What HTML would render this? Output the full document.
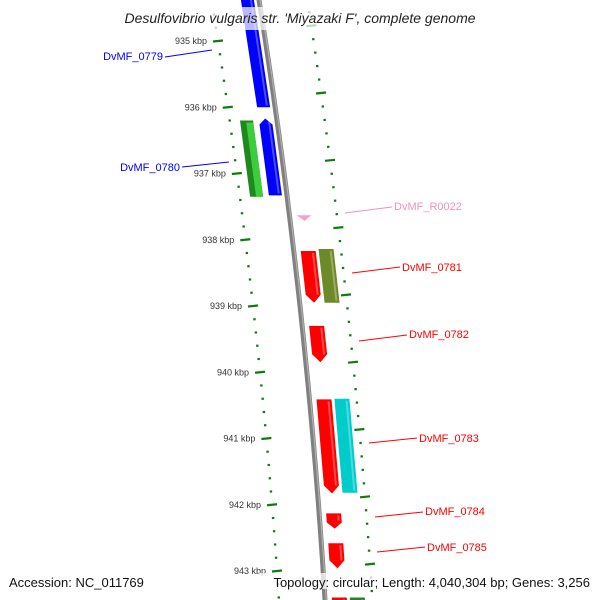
<!DOCTYPE html>
<html><head><meta charset="utf-8"><style>
html,body{margin:0;padding:0;background:#fff;}
svg{display:block;font-family:"Liberation Sans","DejaVu Sans",sans-serif;}
</style></head><body>
<svg id="map" width="600" height="600" viewBox="0 0 600 600" xmlns="http://www.w3.org/2000/svg">
<g id="ticks"></g>
<g id="features"></g>
<g id="labels"></g>
<rect x="100" y="7" width="400" height="23" fill="#fff" opacity="0.72"/>
<text x="300" y="23" text-anchor="middle" font-size="14" font-style="italic" fill="#222">Desulfovibrio vulgaris str. 'Miyazaki F', complete genome</text>
<rect x="6" y="573" width="140" height="16" fill="#fff" opacity="0.8"/>
<text x="9" y="587" font-size="13" fill="#111">Accession: NC_011769</text>
<rect x="259" y="573" width="333" height="16" fill="#fff" opacity="0.75"/>
<text x="590" y="587" text-anchor="end" font-size="13" fill="#111">Topology: circular; Length: 4,040,304 bp; Genes: 3,256</text>
</svg>
<script>
const kbpLabels = [935, 936, 937, 938, 939, 940, 941, 942, 943];
const featureNames = ["DvMF_0779","DvMF_0780_a","DvMF_0780_b","DvMF_0780","DvMF_R0022","DvMF_0781","DvMF_0781_b","DvMF_0782","DvMF_0783","DvMF_0783_b","DvMF_0784","DvMF_0785","next_a","next_b"];
const featureStartKbp = [934.3, 936.2, 936.23, 936.17, 937.63, 938.17, 938.14, 939.3, 940.41, 940.4, 942.13, 942.58, 943.4, 943.4];
const featureEndKbp = [936.0, 937.35, 937.35, 937.33, 937.7, 938.95, 938.95, 939.85, 941.83, 941.82, 942.36, 942.96, 943.7, 943.7];
const featureLane = [-1, -2, -2.4, -1, 1, 1, 2, 1, 1, 2, 1, 1, 1, 2];
const featureDir = [0, 0, 0, -1, 1, 1, 0, 1, 1, 0, 1, 1, 0, 0];
const featureColor = ["#0000ff","#1e8a1e","#3ccc3c","#0000ff","#f4a0c8","#ff0000","#6e8a28","#ff0000","#ff0000","#00cccc","#ff0000","#ff0000","#ff0000","#1e8a1e"];
const labelText = ["DvMF_0779","DvMF_0780","DvMF_R0022","DvMF_0781","DvMF_0782","DvMF_0783","DvMF_0784","DvMF_0785"];
const labelColor = ["#0000ff","#0000ff","#f490c0","#ff0000","#ff0000","#ff0000","#ff0000","#ff0000"];

const NS='http://www.w3.org/2000/svg';
// position mapping: kbp -> y (left ruler reference)
function yOf(k){ return 41 + (k-935)*66.25; }
function lag(y,p){ // quadratic through 3 points
  const [a,b,c]=p;
  return a[1]*(y-b[0])*(y-c[0])/((a[0]-b[0])*(a[0]-c[0]))
       + b[1]*(y-a[0])*(y-c[0])/((b[0]-a[0])*(b[0]-c[0]))
       + c[1]*(y-a[0])*(y-b[0])/((c[0]-a[0])*(c[0]-b[0]));
}
const bb = y => lag(y,[[0,259],[220,290],[600,325]]);
const leftR = y => lag(y,[[41,218],[306,253],[571,277]]);
const rightR = y => lag(y,[[93,321],[362,353],[564,370]]);
function mk(tag,attrs,parent){const e=document.createElementNS(NS,tag);for(const k in attrs)e.setAttribute(k,attrs[k]);parent.appendChild(e);return e;}

// backbone
const fg=document.getElementById('features');
let pts=[];for(let y=-5;y<=605;y+=10)pts.push(bb(y).toFixed(1)+','+y);
const bl=mk('polyline',{points:pts.join(' '),fill:'none',stroke:'#808080','stroke-width':5},fg);


pts=[];for(let y=-5;y<=605;y+=10)pts.push((bb(y)+1.2).toFixed(1)+','+y);
mk('polyline',{points:pts.join(' '),fill:'none',stroke:'#b0b0b0','stroke-width':1.2},fg);

// ticks
const tg=document.getElementById('ticks');
for(let i=-2;i<=48;i++){
  const k=935+i*0.2; const y=yOf(k); if(y<-5||y>605)continue;
  const major=(i%5===0);
  const x=leftR(y);
  const t=mk('line',{x1:x-(major?5:1.2),y1:y+(major?0.5:0),x2:x+(major?5:1.2),y2:y-(major?0.5:0),stroke:'#107c10','stroke-width':major?2.2:2.2},tg);
  
  
}
kbpLabels.forEach(k=>{
  const y=yOf(k);
  const t=mk('text',{x:leftR(y)-11,y:y+3,'text-anchor':'end','font-size':9,fill:'#333'},tg);
  t.textContent=k+' kbp';
  
  
});
for(let i=-8;i<=42;i++){
  const y=93+i*13.46; if(y<-5||y>605)continue;
  const major=(i%5===0);
  const x=rightR(y);
  const t=mk('line',{x1:x-(major?5:1.2),y1:y+(major?0.5:0),x2:x+(major?5:1.2),y2:y-(major?0.5:0),stroke:'#107c10','stroke-width':2.2},tg);
  
  
}

// features
const laneOff={'-1':[-18,-5],'-2':[-37,-24],'-2.4':[-31,-24],'1':[7,22],'2':[25,40]};
function P(y,o){return (bb(y)+o).toFixed(1)+','+y.toFixed(1);}
featureNames.forEach((n,i)=>{
  const y0=yOf(featureStartKbp[i]), y1=yOf(featureEndKbp[i]);
  const [a,b]=laneOff[String(featureLane[i])];
  const m=(a+b)/2, d=featureDir[i];
  let poly;
  if(n==='DvMF_R0022'){
    poly=[P(y0,a),P(y0,b),P(y1+1,m)];
  } else if(d===1){
    const h=Math.min(8,(y1-y0)*0.4);
    poly=[P(y0,a),P(y0,b),P(y1-h,b),P(y1,m),P(y1-h,a)];
  } else if(d===-1){
    const h=Math.min(6,(y1-y0)*0.4);
    poly=[P(y0,m),P(y0+h,b),P(y1,b),P(y1,a),P(y0+h,a)];
  } else {
    poly=[P(y0,a),P(y0,b),P(y1,b),P(y1,a)];
  }
  const e=mk('polygon',{points:poly.join(' '),fill:featureColor[i]},fg);
  
  
  if(n!=='DvMF_R0022' && featureLane[i]!==-2.4){
    const s=mk('polygon',{points:[P(y0+2,b-4),P(y0+2,b-2),P(y1-(d===1?8:2),b-2),P(y1-(d===1?8:2),b-4)].join(' '),fill:'#fff',opacity:0.3},fg);
    
    
  }
});

// labels
const lblLine=[[165,57,212,50],[182,167,229,162],[345,213,392,207],[352,273,400,267],[359,341,407,335],[369,443,417,438],[375,517,423,512],[377,552,425,547]];
const lblPos=[[163,60,'end'],[180,171,'end'],[394,210,'start'],[402,271,'start'],[409,338,'start'],[419,442,'start'],[425,515,'start'],[427,551,'start']];
const lg=document.getElementById('labels');
labelText.forEach((t,i)=>{
  const l=lblLine[i];
  const ln=mk('line',{x1:l[0],y1:l[1],x2:l[2],y2:l[3],stroke:labelColor[i],'stroke-width':1},lg);
  
  
  const p=lblPos[i];
  const tx=mk('text',{x:p[0],y:p[1],'text-anchor':p[2],'font-size':11,fill:labelColor[i]},lg);
  tx.textContent=t;
  
  
});
</script>
</body></html>
